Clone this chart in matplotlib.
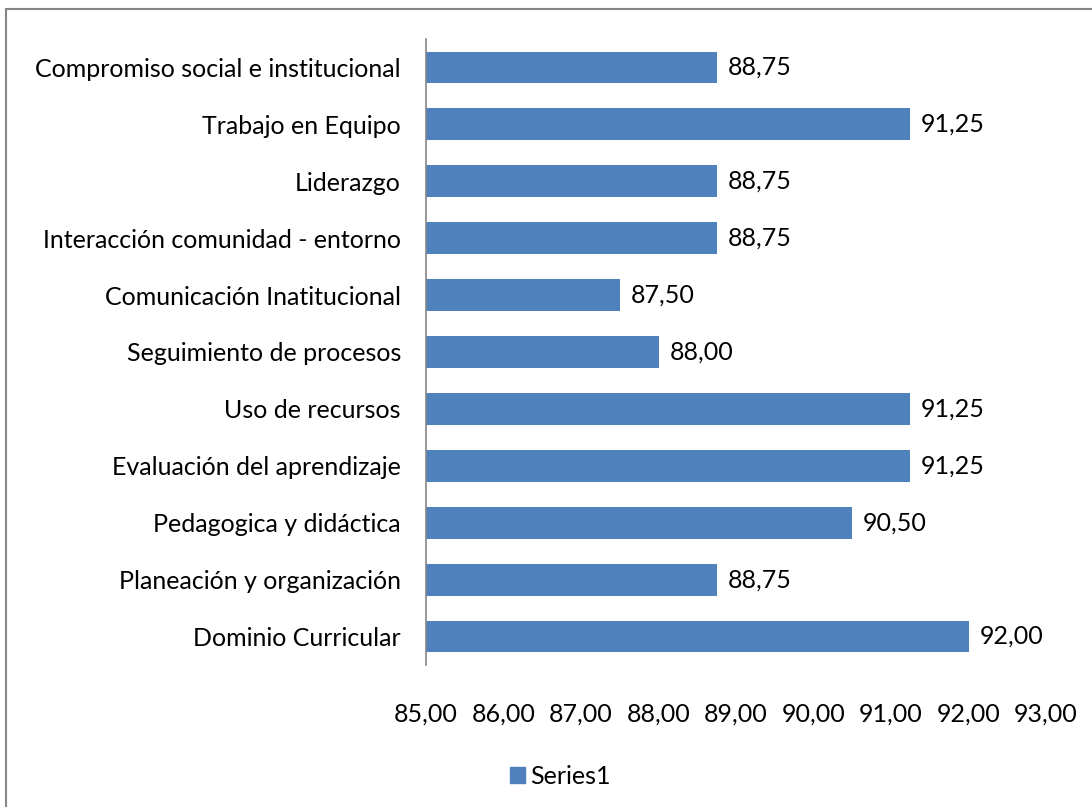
import matplotlib.pyplot as plt
from matplotlib.patches import Rectangle
from matplotlib.ticker import FuncFormatter

plt.rcParams['font.family'] = ['Lato', 'DejaVu Sans']

categorias = [
    "Dominio Curricular",
    "Planeación y organización",
    "Pedagogica y didáctica",
    "Evaluación del aprendizaje",
    "Uso de recursos",
    "Seguimiento de procesos",
    "Comunicación Inatitucional",
    "Interacción comunidad - entorno",
    "Liderazgo",
    "Trabajo en Equipo",
    "Compromiso social e institucional",
]
valores = [92.00, 88.75, 90.50, 91.25, 91.25, 88.00, 87.50, 88.75, 88.75, 91.25, 88.75]
ticks_x = [85, 86, 87, 88, 89, 90, 91, 92, 93]

azul = "#4F81BD"
fs = 18

fig = plt.figure(figsize=(10.92, 8.07), dpi=100)
ax = fig.add_axes([426 / 1092, 1 - 665 / 807, 620 / 1092, 626 / 807])

pos = list(range(len(categorias)))
ax.barh(pos, [v - 85 for v in valores], left=85, height=0.56, color=azul, edgecolor="none")

for p, v in zip(pos, valores):
    ax.text(v + 0.14, p, f"{v:.2f}".replace(".", ","), va="center", ha="left", fontsize=fs)

ax.set_xlim(85, 93)
ax.set_ylim(-0.5, len(categorias) - 0.5)
ax.set_yticks(pos)
ax.set_yticklabels(categorias, fontsize=fs)
ax.set_xticks(ticks_x)
ax.xaxis.set_major_formatter(FuncFormatter(lambda x, _: f"{x:.2f}".replace(".", ",")))
ax.tick_params(axis="x", length=0, pad=27, labelsize=fs)
ax.tick_params(axis="y", length=0, pad=18)

for s in ["top", "right", "bottom"]:
    ax.spines[s].set_visible(False)
ax.spines["left"].set_color("#868686")
ax.spines["left"].set_linewidth(1.2)

# leyenda inferior
h = Rectangle((0, 0), 1, 1, color=azul)
fig.legend([h], ["Series1"], loc="center", bbox_to_anchor=(560 / 1092, 1 - 776 / 807),
           frameon=False, fontsize=fs, handlelength=0.6, handleheight=0.6,
           handletextpad=0.2)

# marco del gráfico
fig.patches.append(Rectangle((6 / 1092, -0.1), 1.2, 1 - 9 / 807 + 0.1,
                             transform=fig.transFigure, fill=False,
                             edgecolor="#868686", linewidth=1.5))

fig.savefig("out.png", dpi=100)
